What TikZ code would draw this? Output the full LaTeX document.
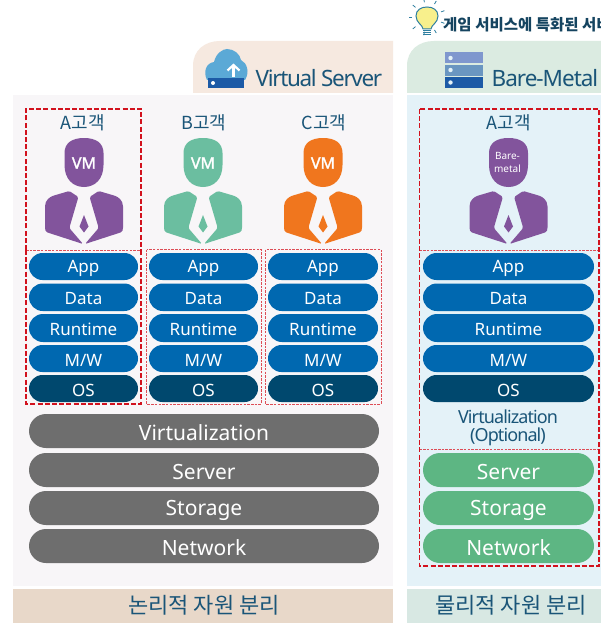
\documentclass[tikz,border=0pt]{standalone}
\usepackage{fontspec}
\setmainfont{Noto Sans}
\newfontfamily\kr{Noto Sans CJK KR}
\newfontfamily\vmfont[FakeBold=1.6]{Noto Sans}
\usetikzlibrary{arrows.meta}
\definecolor{tabL}{HTML}{F6E9E0}
\definecolor{tabR}{HTML}{DBEBE1}
\definecolor{panL}{HTML}{F8F6F8}
\definecolor{panR}{HTML}{E4F2F8}
\definecolor{footL}{HTML}{E8D8C9}
\definecolor{footR}{HTML}{D8E8E3}
\definecolor{pillB}{HTML}{0068B0}
\definecolor{pillD}{HTML}{00486E}
\definecolor{pillG}{HTML}{6E6E6E}
\definecolor{pillN}{HTML}{5DB683}
\definecolor{ink}{HTML}{1A5578}
\definecolor{redd}{HTML}{D2121E}
\definecolor{purp}{HTML}{82549C}
\definecolor{teal}{HTML}{6BBEA0}
\definecolor{oran}{HTML}{F0761E}
\definecolor{cloudc}{HTML}{5BA9D6}
\definecolor{cloudbar}{HTML}{1C5AA6}
\definecolor{srvA}{HTML}{7F97CE}
\definecolor{srvB}{HTML}{6A96C1}
\definecolor{bulbc}{HTML}{F8F08C}
\definecolor{bulbl}{HTML}{2F7FA0}
\tikzset{
  x=1pt,y=-1pt,
  pilltext/.style={text=white,font=\fontsize{17}{18}\selectfont,inner sep=0pt,yshift=-1.5pt},
  bigtext/.style={text=white,font=\fontsize{21}{22}\selectfont,inner sep=0pt,yshift=-2pt},
  custlabel/.style={text=ink,font=\kr\fontsize{18}{19}\selectfont,inner sep=0pt},
  vmlabel/.style={text=white,inner sep=0pt,font=\vmfont\fontsize{16}{18}\selectfont},
  tabtext/.style={text=ink,font=\fontsize{22.5}{24}\selectfont,inner sep=0pt,anchor=west},
  foottext/.style={text=ink,font=\kr\fontsize{22}{24}\selectfont,inner sep=0pt},
  thickred/.style={draw=redd,line width=1.7pt,dash pattern=on 5pt off 2.2pt},
  thinred/.style={draw=redd!75,line width=1pt,dash pattern=on 2.5pt off 1.2pt},
}
\newcommand{\pillbar}[8]{%
  \pgfmathsetmacro{\rr}{(#5-#4)/2}
  \fill[#6,rounded corners=\rr pt] (#2,#4) rectangle (#3,#5);
  \node[#7] (#1) at ({(#2+#3)/2},{(#4+#5)/2}) {#8};
}
\newcommand{\stack}[3]{%
  \pillbar{#1app}{#2}{#3}{253}{280}{pillB}{pilltext}{App}
  \pillbar{#1data}{#2}{#3}{283.5}{311}{pillB}{pilltext}{Data}
  \pillbar{#1run}{#2}{#3}{314}{342}{pillB}{pilltext}{Runtime}
  \pillbar{#1mw}{#2}{#3}{345}{372}{pillB}{pilltext}{M/W}
  \pillbar{#1os}{#2}{#3}{375}{402}{pillD}{pilltext}{OS}
}
\newcommand{\person}[2]{%
  \begin{scope}[shift={(#1,0)}]
    \fill[#2] (-19.5,153) .. controls (-19.5,143) and (-12,138) .. (0,138)
      .. controls (12,138) and (19.5,143) .. (19.5,153)
      -- (19.5,165) .. controls (19.5,179) and (11,187) .. (0,187)
      .. controls (-11,187) and (-19.5,179) .. (-19.5,165) -- cycle;
    \fill[#2,rounded corners=1.5pt] (-14.7,191) -- (-5.6,197) -- (-14.7,228) -- (-1,244)
      -- (-38,232) -- (-39,229)
      -- (-39,208) .. controls (-39,200) and (-34,197) .. (-30,195.5) -- cycle;
    \fill[#2,rounded corners=1.5pt] (14.7,191) -- (5.6,197) -- (14.7,228) -- (1,244)
      -- (38,232) -- (39,229)
      -- (39,208) .. controls (39,200) and (34,197) .. (30,195.5) -- cycle;
    \fill[#2] (0,215) -- (4.5,226.5) -- (0,232.5) -- (-4.5,226.5) -- cycle;
  \end{scope}
}
\begin{document}
\begin{tikzpicture}
\useasboundingbox (0,0) rectangle (601,623);
\fill[white] (0,0) rectangle (601,623);
\fill[tabL] (193,93) -- (193,66) .. controls (193,50) and (205,41) .. (220,41) -- (393,41) -- (393,93) -- cycle;
\fill[tabR] (407,93) -- (407,66) .. controls (407,50) and (419,41) .. (434,41) -- (601,41) -- (601,93) -- cycle;
\fill[panL] (13,95) rectangle (393,586);
\fill[panR] (407,95) rectangle (601,586);
\fill[footL] (13,589) rectangle (393,623);
\fill[footR] (407,589) rectangle (601,623);
\node[foottext] (footleft) at (204,605) {논리적 자원 분리};
\node[foottext] (footright) at (511,605) {물리적 자원 분리};
\node[tabtext] (vstitle) at (255.5,78) {\addfontfeatures{LetterSpace=-6}Virtual Server};
\node[tabtext] (bmtitle) at (491.5,78) {\addfontfeatures{LetterSpace=-4.5}Bare-Metal};
\fill[cloudc] (207,80) .. controls (203,72) and (206,63) .. (214,62)
  .. controls (216,53) and (223,49) .. (227,49)
  .. controls (234,49) and (240,54) .. (241,60)
  .. controls (247,63) and (250,72) .. (245,80) -- cycle;
\fill[cloudbar] (208,78) rectangle (244,88);
\fill[white] (213,83) circle (2pt);
\draw[white,line width=2.2pt] (233.5,77) -- (233.5,66);
\draw[white,line width=2.2pt] (227.5,70.5) -- (233.5,65) -- (239.5,70.5);
\fill[srvA] (444.5,52) rectangle (483,63.5);
\fill[srvB] (444.5,65) rectangle (483,76);
\fill[cloudbar] (444.5,77.5) rectangle (483,88);
\foreach \yy in {58,70,82.5} \fill[panR] (450.5,\yy) circle (2.2pt);
\fill[bulbc,draw=bulbl,line width=1pt] (423,29) .. controls (423,25) and (416,23) .. (416,16)
  .. controls (416,10) and (421,7) .. (427,7) .. controls (433,7) and (438,10) .. (438,16)
  .. controls (438,23) and (431,25) .. (431,29) -- cycle;
\foreach \yy in {30.5,32.5,34.5} \draw[bulbl,line width=1pt] (423,\yy) -- (431,\yy);
\foreach \aa in {0,40,...,320} \draw[bulbl,line width=0.8pt] ({427+15*cos(\aa+20)},{17+15*sin(\aa+20)}) -- ({427+18.5*cos(\aa+20)},{17+18.5*sin(\aa+20)});
\node[anchor=west,inner sep=0pt,text=ink!80!black,font=\kr\bfseries\fontsize{15.5}{17}\selectfont] (hint) at (443,25) {게임 서비스에 특화된 서비스};
\node[custlabel] (ca) at (83,123) {A고객};
\node[custlabel] (cb) at (204,123) {B고객};
\node[custlabel] (cc) at (324,123) {C고객};
\node[custlabel] (cr) at (509,123) {A고객};
\person{84}{purp}
\person{203}{teal}
\person{323}{oran}
\person{508.5}{purp}
\node[vmlabel] (vma) at (84,163) {VM};
\node[vmlabel] (vmb) at (203,163) {VM};
\node[vmlabel] (vmc) at (323,163) {VM};
\node[text=white,inner sep=0pt,align=center,font=\fontsize{10}{13.5}\selectfont] (vmr) at (507.5,162.5) {Bare-\\metal};
\stack{a}{29}{138}
\stack{b}{149}{258}
\stack{c}{268}{378}
\stack{r}{423}{594}
\pillbar{lvirt}{29}{379}{414}{448}{pillG}{bigtext}{Virtualization}
\pillbar{lserv}{29}{379}{453}{487}{pillG}{bigtext}{Server}
\pillbar{lstor}{29}{379}{491}{525}{pillG}{bigtext}{Storage}
\pillbar{lnet}{29}{379}{529}{563}{pillG}{bigtext}{Network}
\pillbar{rserv}{423}{594}{453}{487}{pillN}{bigtext}{Server}
\pillbar{rstor}{423}{594}{491}{525}{pillN}{bigtext}{Storage}
\pillbar{rnet}{423}{594}{529}{563}{pillN}{bigtext}{Network}
\node[text=ink,align=center,inner sep=0pt,font=\fontsize{18}{18}\selectfont] (roptional) at (508,427.5) {\addfontfeatures{LetterSpace=-5}Virtualization\\\addfontfeatures{LetterSpace=-5}(Optional)};
\draw[thinred] (146.5,249.5) rectangle (261,404);
\draw[thinred] (265.5,249.5) rectangle (381,404);
\draw[thinred] (26,250) -- (141,250);
\draw[thickred] (26,250) -- (26,109) -- (141,109) -- (141,250);
\draw[thickred] (26,250) -- (26,404) -- (141,404) -- (141,250);
\draw[thinred] (419.5,250) -- (599,250);
\draw[thinred] (419.5,449) -- (599,449);
\draw[thickred] (419.5,109) rectangle (599,566);
\end{tikzpicture}
\end{document}
